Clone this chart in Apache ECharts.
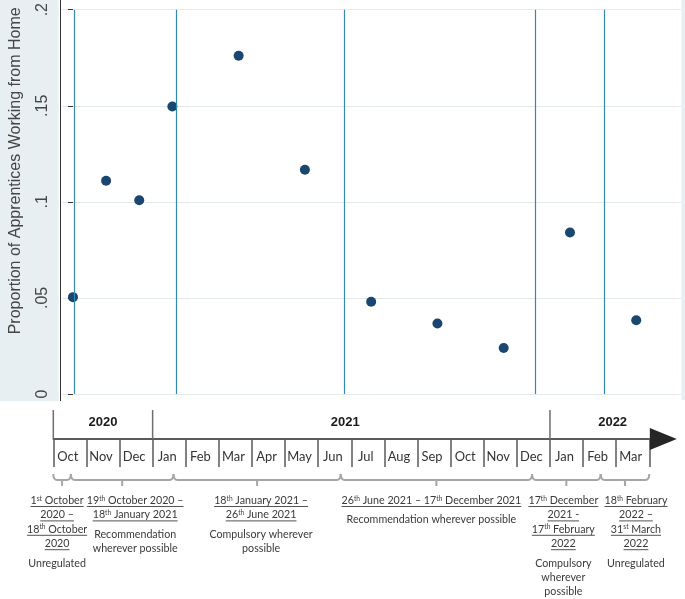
<!DOCTYPE html>
<html><head><meta charset="utf-8">
<script src="https://cdn.jsdelivr.net/npm/echarts@6/dist/echarts.min.js"></script>
<style>html,body{margin:0;padding:0;background:#fff}#c{width:685px;height:599px}</style>
</head><body><div id="c"></div>
<script>
// ---------------- data ----------------
const months = ['Oct','Nov','Dec','Jan','Feb','Mar','Apr','May','Jun','Jul','Aug','Sep','Oct','Nov','Dec','Jan','Feb','Mar'];
const years = ['2020','2021','2022'];
const yearStartIdx = [0, 3, 15];
const sampleMonthIdx = [0, 1, 2, 3, 5, 7, 9, 11, 13, 15, 17];
const wfhShare = [0.0504, 0.111, 0.1008, 0.1496, 0.176, 0.1167, 0.048, 0.0367, 0.0239, 0.084, 0.0384];
const yTicks = [0, 0.05, 0.1, 0.15, 0.2];
const policyChange = [0.03, 3.13, 8.18, 13.96, 16.03]; // months since start of Oct 2020
const periodDates = [
  ['1{s|st} October', '2020 –', '18{s|th} October', '2020'],
  ['19{s|th} October 2020 –', '18{s|th} January 2021'],
  ['18{s|th} January 2021 –', '26{s|th} June 2021'],
  ['26{s|th} June 2021 – 17{s|th} December 2021'],
  ['17{s|th} December', '2021 -', '17{s|th} February', '2022'],
  ['18{s|th} February', '2022 –', '31{s|st} March', '2022']
];
const periodRegime = [
  ['Unregulated'],
  ['Recommendation', 'wherever possible'],
  ['Compulsory wherever', 'possible'],
  ['Recommendation wherever possible'],
  ['Compulsory', 'wherever', 'possible'],
  ['Unregulated']
];

// ---------------- styling helpers ----------------
const noteNudge = [-5, 13, 4, -5, -3, 11];
const yearNudge = [0, -6, 13];
const NOTE_FONT = 'Lato';
const mctx = document.createElement('canvas').getContext('2d');
function textWidth(s, font) { mctx.font = font; return mctx.measureText(s).width; }
const noteSize = 12 * 170 / textWidth('Recommendation wherever possible', '12px Lato');
const supSize = noteSize * 0.62;
const monthSize = 14 * 23.5 / textWidth('Nov', '14px Lato');

function splitRich(line) {
  const out = []; const re = /\{s\|([^}]*)\}/g; let last = 0, m;
  while ((m = re.exec(line))) {
    if (m.index > last) out.push({ t: line.slice(last, m.index), sup: false });
    out.push({ t: m[1], sup: true }); last = re.lastIndex;
  }
  if (last < line.length) out.push({ t: line.slice(last), sup: false });
  return out;
}
function richWidth(line) {
  return splitRich(line).reduce((w, k) => w + textWidth(k.t, (k.sup ? supSize : noteSize) + 'px ' + NOTE_FONT), 0);
}
function noteText(line, x, y) {
  return { type: 'text', style: {
    text: line, x: x, y: y, align: 'center', verticalAlign: 'middle',
    fontSize: noteSize, fontFamily: NOTE_FONT, fill: '#3a3a3a',
    rich: { s: { fontSize: supSize, fontFamily: NOTE_FONT, verticalAlign: 'top', lineHeight: 6, fill: '#3a3a3a' } }
  } };
}

const edges = [-0.5].concat(policyChange, [months.length - 0.5]);
const periodData = periodDates.map((d, i) => [edges[i], edges[i + 1], i]);
const yearData = years.map((y, i) => [yearStartIdx[i] - 0.5, (i + 1 < years.length ? yearStartIdx[i + 1] : months.length) - 0.5, i]);

function renderPeriod(params, api) {
  const i = api.value(2);
  const x0 = api.coord([api.value(0), 0])[0];
  const x1 = api.coord([api.value(1), 0])[0];
  const base = api.coord([0, 0])[1];
  const xc = (x0 + x1) / 2;
  const by = base + 41;
  const children = [{
    type: 'path',
    shape: { pathData: `M${x0} ${by - 6} Q${x0} ${by} ${x0 + 4} ${by} L${x1 - 4} ${by} Q${x1} ${by} ${x1} ${by - 6} M${xc} ${by} L${xc} ${by + 6}` },
    style: { stroke: '#a6a6a6', lineWidth: 2, fill: null }
  }];
  const tx = xc + noteNudge[i];
  let y = base + 61.5;
  periodDates[i].forEach(line => {
    const w = richWidth(line);
    children.push(noteText(line, tx, y));
    children.push({ type: 'line', shape: { x1: tx - w / 2, y1: y + 6, x2: tx + w / 2, y2: y + 6 }, style: { stroke: '#404040', lineWidth: 0.9 } });
    y += 14.4;
  });
  y += 5.1;
  periodRegime[i].forEach(line => { children.push(noteText(line, tx, y)); y += 14.4; });
  return { type: 'group', children: children };
}
function renderYear(params, api) {
  const i = api.value(2);
  const x0 = api.coord([api.value(0), 0])[0];
  const x1 = api.coord([api.value(1), 0])[0];
  const base = api.coord([0, 0])[1];
  const top = api.coord([0, 1])[1];
  return { type: 'group', children: [
    { type: 'line', shape: { x1: x0, y1: top, x2: x0, y2: base }, style: { stroke: '#6e6e6e', lineWidth: 1.5 } },
    { type: 'text', style: { text: years[i], x: (x0 + x1) / 2 + yearNudge[i], y: top + 12.5, align: 'center', verticalAlign: 'middle',
      fontSize: 13, fontWeight: 'bold', fontFamily: 'Liberation Sans, Arial', fill: '#1a1a1a' } }
  ] };
}

const chart = echarts.init(document.getElementById('c'));
chart.setOption({
  animation: false,
  backgroundColor: '#ffffff',
  graphic: [
    { type: 'rect', z: -10, shape: { x: 0, y: 0, width: 58.5, height: 401 }, style: { fill: '#e8eff2' }, silent: true },
    { type: 'rect', z: -10, shape: { x: 681.5, y: 0, width: 4, height: 400 }, style: { fill: '#e8eff2' }, silent: true },
    { type: 'line', z: 10, shape: { x1: 60.5, y1: 0, x2: 60.5, y2: 401 }, style: { stroke: '#333333', lineWidth: 1 }, silent: true }
  ],
  grid: [
    { left: 60, right: 4, top: 9, bottom: 205 },
    { left: 53.3, right: 35.7, top: 410, bottom: 160 }
  ],
  xAxis: [
    { gridIndex: 0, type: 'value', min: -0.331, max: 18.351, show: false },
    { gridIndex: 1, type: 'category', data: months, position: 'bottom', boundaryGap: true,
      axisLine: { show: true, onZero: false, lineStyle: { color: '#262626', width: 1.5 }, symbol: ['none', 'triangle'], symbolSize: [22, 27], symbolOffset: [0, 14] },
      axisTick: { show: true, length: 28, interval: 0, lineStyle: { color: '#595959', width: 1.5 } },
      axisLabel: { show: true, interval: 0, margin: 18 - monthSize / 2, fontFamily: 'Lato', fontSize: monthSize, color: '#333333', padding: [0, 4, 0, 0] },
      splitLine: { show: false } },
    { gridIndex: 1, type: 'value', min: -0.5, max: months.length - 0.5, show: false }
  ],
  yAxis: [
    { gridIndex: 0, type: 'value', min: yTicks[0], max: yTicks[yTicks.length - 1], interval: 0.05,
      name: 'Proportion of Apprentices Working from Home', nameLocation: 'middle', nameGap: 38, nameRotate: 90,
      nameTextStyle: { fontSize: 16, color: '#454545', fontFamily: 'Liberation Sans, Arial', padding: [0, 0, 0, 62] },
      axisLine: { show: false },
      axisTick: { show: true, length: 5, lineStyle: { color: '#333333' } },
      axisLabel: { rotate: 90, margin: 11, fontSize: 16, color: '#454545', fontFamily: 'Liberation Sans, Arial',
        formatter: v => v === 0 ? '0' : String(+v.toFixed(2)).replace(/^0\./, '.') },
      splitLine: { show: true, lineStyle: { color: '#e3eaee', width: 1 } } },
    { gridIndex: 1, type: 'value', min: 0, max: 1, show: false }
  ],
  series: [
    { type: 'scatter', xAxisIndex: 0, yAxisIndex: 0, symbol: 'circle', symbolSize: 10,
      itemStyle: { color: '#1a476f', opacity: 1 },
      data: sampleMonthIdx.map((m, i) => [m, wfhShare[i]]),
      markLine: { silent: true, symbol: 'none', label: { show: false }, animation: false,
        lineStyle: { color: '#3589b0', width: 1.2, type: 'solid', opacity: 1 },
        emphasis: { disabled: true },
        data: policyChange.map(v => ({ xAxis: v })) } },
    { type: 'custom', xAxisIndex: 2, yAxisIndex: 1, clip: false, silent: true, renderItem: renderYear, data: yearData },
    { type: 'custom', xAxisIndex: 2, yAxisIndex: 1, clip: false, silent: true, renderItem: renderPeriod, data: periodData }
  ]
});
</script></body></html>
